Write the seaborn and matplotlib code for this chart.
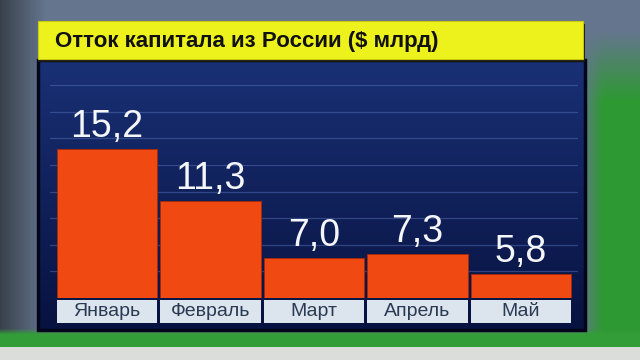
import numpy as np
import matplotlib
matplotlib.use("Agg")
import matplotlib.pyplot as plt
from matplotlib.patches import Rectangle
from matplotlib.transforms import blended_transform_factory
import seaborn as sns

# ---- data ----
title = "Отток капитала из России ($ млрд)"
months = ["Январь", "Февраль", "Март", "Апрель", "Май"]
values = [15.2, 11.3, 7.0, 7.3, 5.8]
value_labels = ["15,2", "11,3", "7,0", "7,3", "5,8"]
grid_ticks = [6, 8, 10, 12, 14, 16, 18, 20]

sns.set_theme(style="white")
plt.rcParams["font.family"] = ["Liberation Sans", "DejaVu Sans"]

W, H = 640, 360
fig = plt.figure(figsize=(6.4, 3.6), dpi=100)

# ---- background (TV studio backdrop) ----
bg = fig.add_axes([0, 0, 1, 1])
bg.set_xlim(0, W)
bg.set_ylim(H, 0)
bg.axis("off")

yy, xx = np.mgrid[0:H, 0:W]
img = np.zeros((H, W, 3))
base = np.array([0.40, 0.46, 0.56])
img[:] = base
lf = np.clip(1 - xx / 45.0, 0, 1)[..., None]
img = img * (1 - 0.6 * lf) + np.array([0.10, 0.12, 0.12]) * 0.6 * lf
rf = np.clip((xx - 578) / 25.0, 0, 1)[..., None] * np.clip((yy - 30) / 70.0, 0, 1)[..., None]
green = np.array([0.18, 0.60, 0.20])
img = img * (1 - rf) + green * rf
bf = np.clip((yy - 328) / 6.0, 0, 1)[..., None]
img = img * (1 - bf) + np.array([0.20, 0.62, 0.22]) * bf
tf = (yy >= 347)[..., None].astype(float)
img = img * (1 - tf) + np.array([0.86, 0.87, 0.86]) * tf
bg.imshow(img, extent=(0, W, H, 0), aspect="auto", zorder=0)

# navy panel with vertical gradient
px0, px1, py0, py1 = 38, 585, 60, 330
grad = np.linspace(0, 1, 200)[:, None]
top_c = np.array([0.10, 0.19, 0.46])
bot_c = np.array([0.03, 0.07, 0.25])
pan = top_c * (1 - grad[..., None]) + bot_c * grad[..., None]
pan = np.repeat(pan, 4, axis=1)
bg.imshow(pan, extent=(px0, px1, py1, py0), aspect="auto", zorder=1)
bg.add_patch(Rectangle((px0, py0), px1 - px0, py1 - py0, fill=False,
                       edgecolor="#03061a", lw=2.5, zorder=2))

# yellow title banner
bg.add_patch(Rectangle((38, 24), 547, 38, facecolor="#1a1a10", edgecolor="none", zorder=2))
bg.add_patch(Rectangle((38, 21), 545, 38, facecolor="#eef21c", edgecolor="#c8c810",
                       lw=0.8, zorder=3))
bg.text(55, 42, title, fontsize=16, fontweight="bold", color="#111111",
        va="center", ha="left", zorder=4)

# ---- main bar axes ----
ax_left, ax_right, ax_top, ax_bot = 50, 578, 62.7, 298
ax = fig.add_axes([ax_left / W, (H - ax_bot) / H, (ax_right - ax_left) / W,
                   (ax_bot - ax_top) / H])
ax.patch.set_alpha(0)
sns.barplot(x=months, y=values, color="#f04a12", width=0.97, saturation=1,
            edgecolor="#a82a06", linewidth=0.6, ax=ax, zorder=3)
ax.set_xlim(-0.55, 4.55)
ax.set_ylim(4, 21.7)
ax.set_yticks(grid_ticks)
ax.yaxis.grid(True, color="#5a78c0", alpha=0.45, lw=0.9)
ax.set_axisbelow(True)
ax.tick_params(left=False, bottom=False, labelleft=False, labelbottom=False)
for s in ax.spines.values():
    s.set_visible(False)
ax.set_xlabel("")
ax.set_ylabel("")

ax.bar_label(ax.containers[0], labels=value_labels, padding=3, color="#f4f6fa",
             fontsize=27)

# month label boxes under bars
trans = blended_transform_factory(ax.transData, ax.transAxes)
for i, m in enumerate(months):
    ax.add_patch(Rectangle((i - 0.485, -0.106), 0.97, 0.098, transform=trans,
                           facecolor="#dce4ee", edgecolor="none", clip_on=False,
                           zorder=3))
    ax.text(i, -0.057, m, transform=trans, ha="center", va="center",
            fontsize=14, color="#2a3a52", clip_on=False, zorder=4)

fig.savefig("out.png", dpi=100)
